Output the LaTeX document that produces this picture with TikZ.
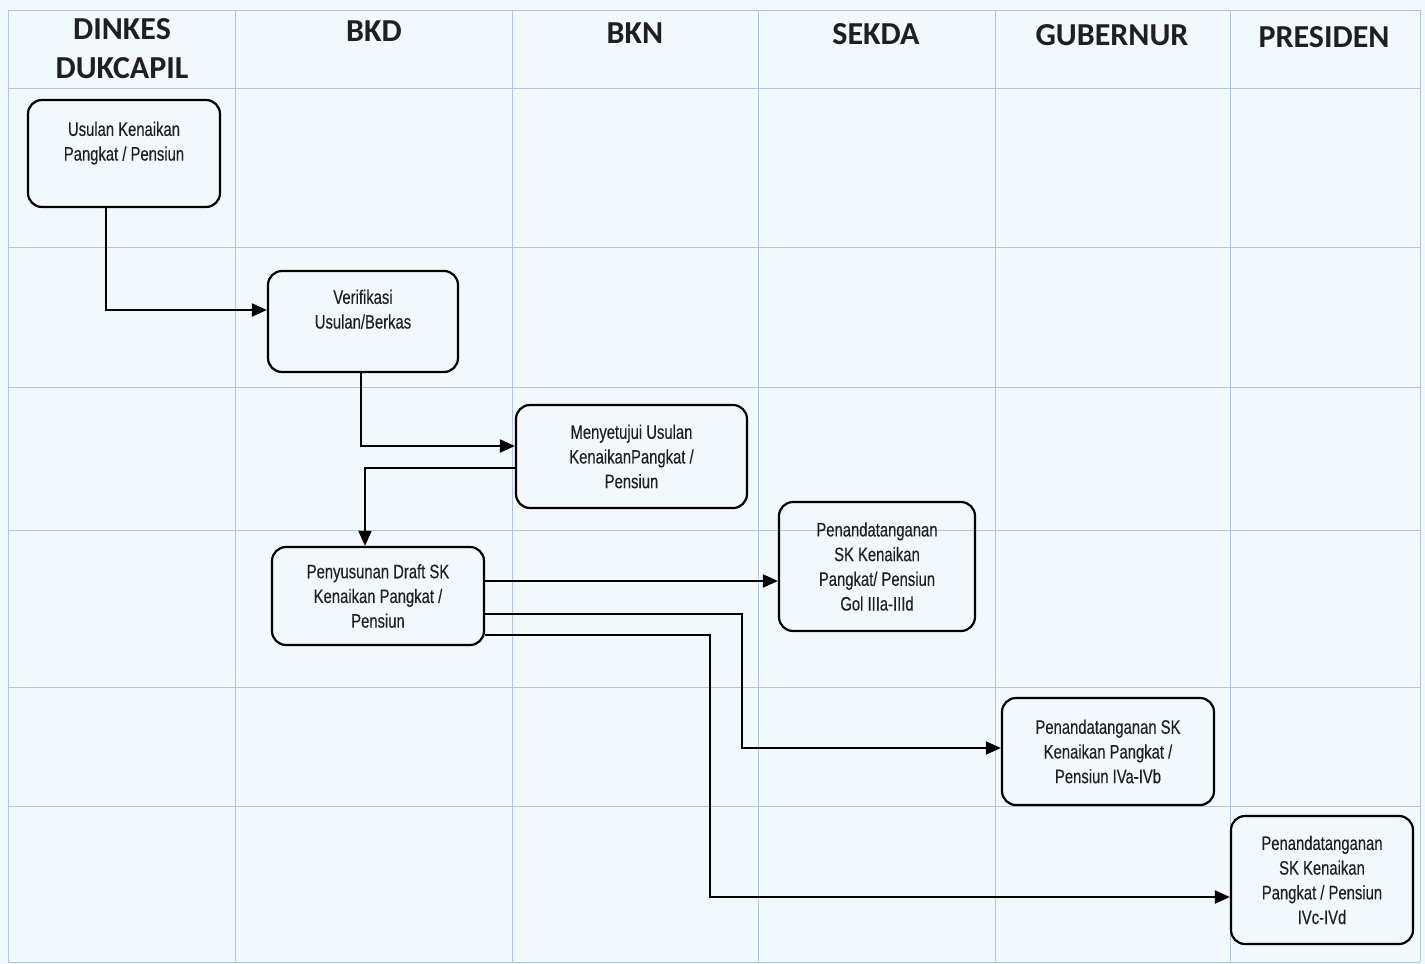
\documentclass[tikz,border=0pt]{standalone}
\usepackage{fontspec}
\setmainfont{Liberation Sans}
\newfontfamily\boxfont[FakeStretch=0.76,FakeBold=0.3]{Liberation Sans}
\newfontfamily\hdrfont{Carlito}
\usetikzlibrary{arrows.meta}
\definecolor{bgcol}{HTML}{F2F9FD}
\definecolor{gridcol}{HTML}{B3C5D8}
\tikzset{
  box/.style={draw=black, line width=2.2pt, rounded corners=14pt, inner sep=0pt,
    align=center, font=\boxfont\fontsize{19.5}{24.7}\selectfont, text=black!88},
  hdr/.style={align=center, inner sep=0pt, font=\hdrfont\bfseries\fontsize{32}{39}\selectfont, text=black!88},
  conn/.style={draw=black, line width=2pt, -{Triangle[length=15pt,width=13pt]}},
  gridline/.style={draw=gridcol, line width=0.8pt}
}
\begin{document}
\begin{tikzpicture}[x=1pt,y=-1pt]
\useasboundingbox (0,0) rectangle (1425,964);
\fill[bgcol] (0,0) rectangle (1425,964);
% grid
\foreach \gx in {8,235,512,758,995,1230,1420}
  \draw[gridline] (\gx,10) -- (\gx,962);
\foreach \gy in {10,88,247,387,530,687,806,962}
  \draw[gridline] (8,\gy) -- (1420,\gy);
% headers
\node[hdr] (h1) at (122,49) {DINKES\\DUKCAPIL};
\node[hdr] (h2) at (374,31) {BKD};
\node[hdr] (h3) at (635,33) {BKN};
\node[hdr] (h4) at (876,34) {SEKDA};
\node[hdr] (h5) at (1112,35) {GUBERNUR};
\node[hdr] (h6) at (1324,37) {PRESIDEN};
% boxes
\node[box, minimum width=192pt, minimum height=107pt] (usulan) at (124,153.5)
  {Usulan Kenaikan\\Pangkat / Pensiun\\\mbox{}};
\node[box, minimum width=190pt, minimum height=101pt] (verif) at (363,321.5)
  {Verifikasi\\Usulan/Berkas\\\mbox{}};
\node[box, minimum width=231pt, minimum height=103pt] (setuju) at (631.5,456.5)
  {Menyetujui Usulan\\KenaikanPangkat /\\Pensiun};
\node[box, minimum width=212pt, minimum height=98pt] (draft) at (378,596)
  {Penyusunan Draft SK\\Kenaikan Pangkat /\\Pensiun};
\node[box, minimum width=196pt, minimum height=129pt] (sekda) at (877,566.5)
  {Penandatanganan\\SK Kenaikan\\Pangkat/ Pensiun\\Gol IIIa-IIId};
\node[box, minimum width=212pt, minimum height=107pt] (gub) at (1108,751.5)
  {Penandatanganan SK\\Kenaikan Pangkat /\\Pensiun IVa-IVb};
\node[box, minimum width=182pt, minimum height=128pt] (pres) at (1322,880)
  {Penandatanganan\\SK Kenaikan\\Pangkat / Pensiun\\IVc-IVd};
% connectors
\draw[conn] ([xshift=-18pt]usulan.south) |- ([yshift=11.5pt]verif.west);
\draw[conn] ([xshift=-2pt]verif.south) |- ([yshift=10.5pt]setuju.west);
\draw[conn] ([yshift=-11.5pt]setuju.west) -| ([xshift=-13pt]draft.north);
\draw[conn] ([yshift=15pt]draft.east) -- ([yshift=15pt]draft.east -| sekda.west);
\draw[conn] ([yshift=-18pt]draft.east) -| ([xshift=-259pt,yshift=3.5pt]gub.west) -- ([yshift=3.5pt]gub.west);
\draw[conn] ([yshift=-39pt]draft.east) -| ([xshift=-520pt,yshift=-17pt]pres.west) -- ([yshift=-17pt]pres.west);
\end{tikzpicture}
\end{document}
